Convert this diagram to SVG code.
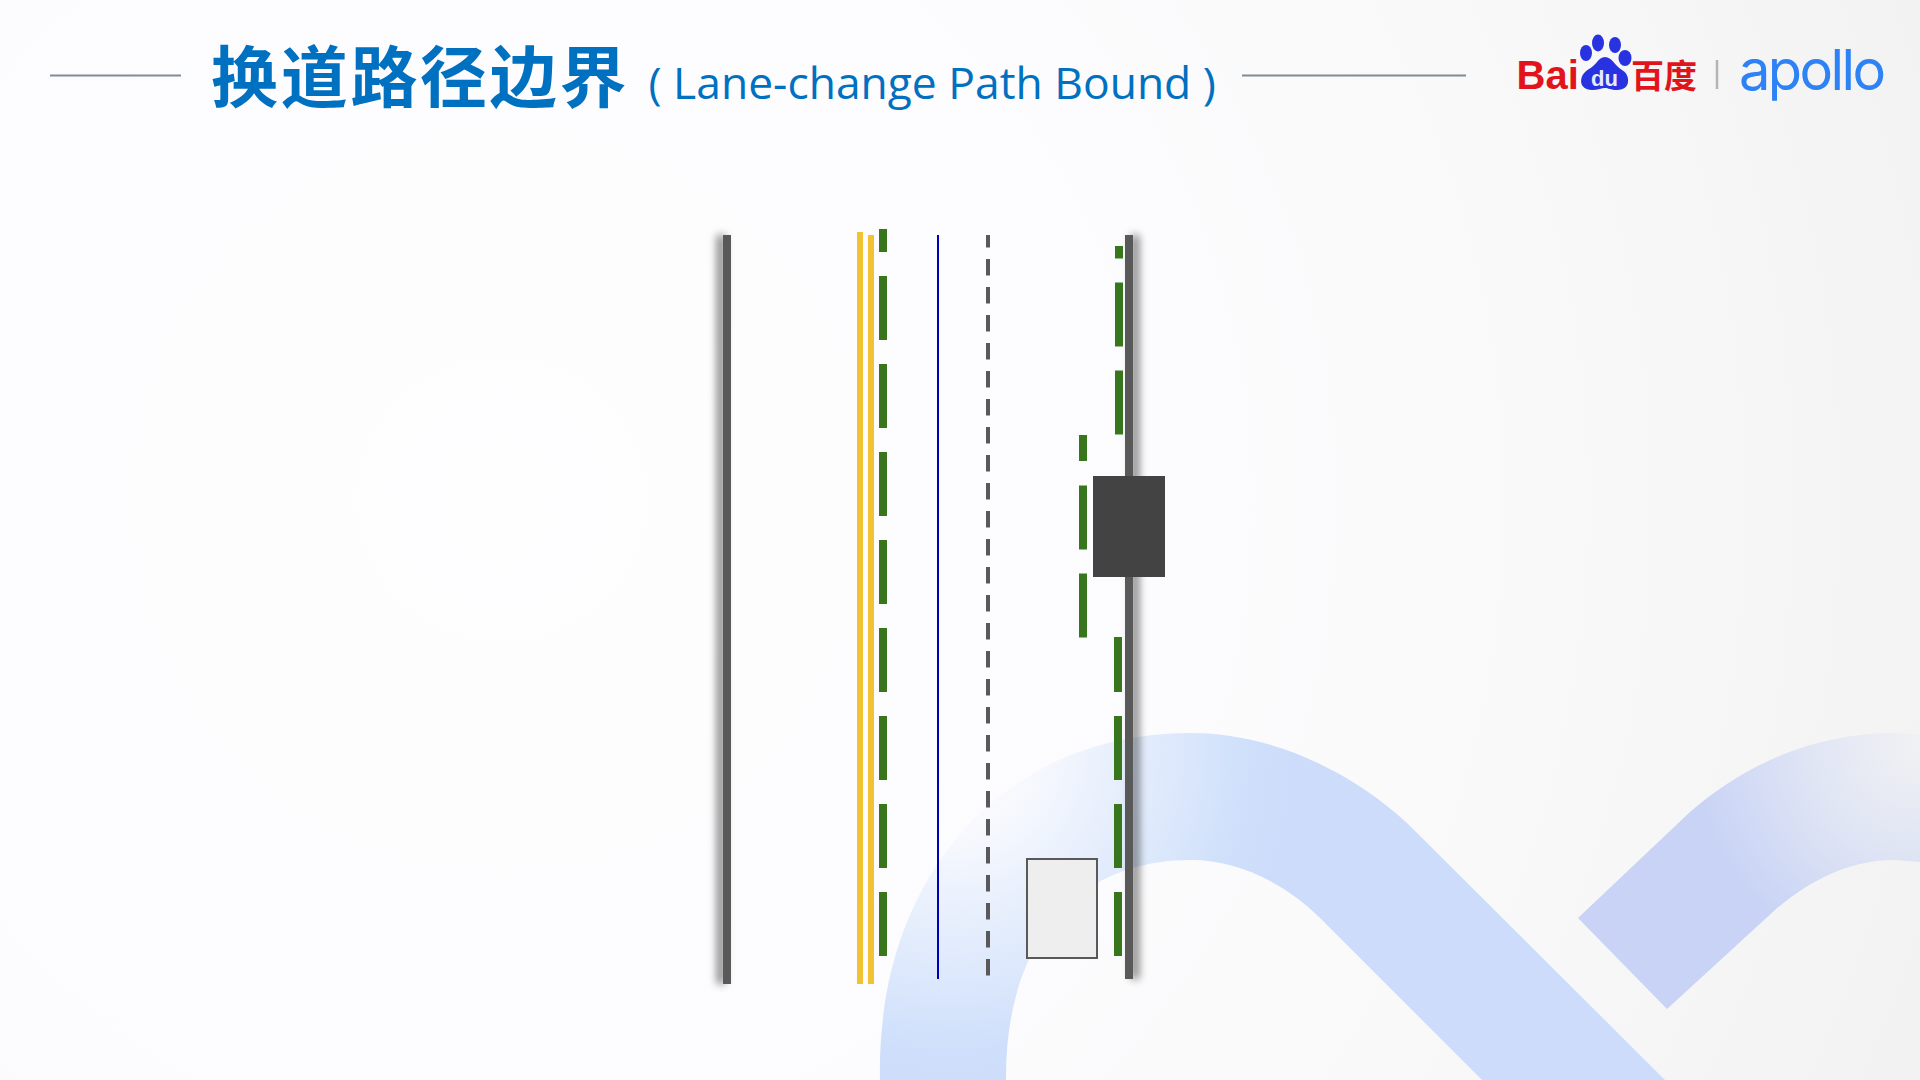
<svg xmlns="http://www.w3.org/2000/svg" width="1920" height="1080" viewBox="0 0 1920 1080">
<defs>
<radialGradient id="bg" gradientUnits="userSpaceOnUse" cx="500" cy="500" r="1500">
<stop offset="0" stop-color="#fefeff"/><stop offset="0.45" stop-color="#fcfcfe"/><stop offset="0.75" stop-color="#f8f8f8"/><stop offset="1" stop-color="#f2f2f2"/>
</radialGradient>
<radialGradient id="arch1" gradientUnits="userSpaceOnUse" cx="950" cy="750" r="340">
<stop offset="0" stop-color="#cedffb" stop-opacity="0"/><stop offset="0.25" stop-color="#cedffb" stop-opacity="0.12"/><stop offset="0.9" stop-color="#cedffb"/><stop offset="1" stop-color="#cddcfa"/>
</radialGradient>
<radialGradient id="arch2" gradientUnits="userSpaceOnUse" cx="1920" cy="745" r="270">
<stop offset="0" stop-color="#c8d3f5" stop-opacity="0.05"/><stop offset="0.4" stop-color="#c8d3f5" stop-opacity="0.45"/><stop offset="0.85" stop-color="#c8d3f5"/>
</radialGradient>
<filter id="shadow" x="-500%" y="-3%" width="1100%" height="106%"><feGaussianBlur stdDeviation="4"/></filter>
<style>
.road{fill:#595959}
.sh{fill:#000;opacity:.5;filter:url(#shadow)}
.g{fill:#38761d}
.y{fill:#f1c232}
.t{font-family:"Noto Sans CJK SC","Noto Sans",sans-serif}
</style>
</defs>
<rect id="background" width="1920" height="1080" fill="url(#bg)"/>
<g id="decor">
<path d="M880 1080 C876 880 1000 733 1191 733 C1270 733 1350 770 1408 824 L1665 1080 L1482 1080 L1329 927 C1290 885 1240 860 1191 860 C1070 860 1005 950 1006 1080 Z" fill="url(#arch1)"/>
<path d="M1578 918 L1690 812 C1750 760 1820 733 1895 733 L1920 735 L1920 862 L1894 860 C1850 860 1810 880 1775 910 L1667 1009 Z" fill="url(#arch2)"/>
</g>
<g id="title">
<line x1="50" y1="75.5" x2="181" y2="75.5" stroke="#7f8c96" stroke-width="2"/>
<text class="t" x="211" y="101.500" font-size="67" font-weight="700" letter-spacing="2.700" fill="#0070c0">换道路径边界</text>
<text x="648.500" y="99" font-family="'Open Sans',sans-serif" font-size="44.400" fill="#0070c0">( Lane-change Path Bound )</text>
<line x1="1242" y1="75.5" x2="1466" y2="75.5" stroke="#7f8c96" stroke-width="2"/>
</g>
<g id="logo">
<text x="1516.500" y="88.500" font-family="'Liberation Sans',sans-serif" font-size="40" font-weight="700" fill="#e1141c">Bai</text>
<g fill="#2932e1">
<ellipse cx="1586" cy="53" rx="6" ry="8"/><ellipse cx="1598" cy="43" rx="6" ry="8.500"/><ellipse cx="1615" cy="45" rx="6" ry="8"/><ellipse cx="1625" cy="58" rx="6.500" ry="8"/>
<path d="M1605 57 C1612 57 1615 66 1622 70 C1630 74 1632 90 1617 90 C1611 90 1608 88 1605 88 C1602 88 1598 90 1592 90 C1578 90 1578 75 1589 69 C1596 66 1598 57 1605 57 Z"/>
</g>
<text x="1591" y="86" font-family="'Liberation Sans',sans-serif" font-size="22" font-weight="700" fill="#e8eaff">du</text>
<text class="t" x="1631" y="88" font-size="33" font-weight="700" fill="#e1141c">百度</text>
<line x1="1717" y1="60" x2="1717" y2="89" stroke="#b4b4b4" stroke-width="2.500"/>
<text x="1739" y="90" font-family="Inter,sans-serif" font-size="56" fill="#2d82f5" textLength="147" lengthAdjust="spacing">apollo</text>
</g>
<g id="road-boundary-left">
<rect class="sh" x="717" y="235" width="8" height="749"/>
<rect class="road" x="723" y="235" width="8" height="749"/>
</g>
<g id="road-boundary-right">
<rect class="sh" x="1131" y="235" width="8" height="744"/>
<rect class="road" x="1125" y="235" width="8" height="744"/>
</g>
<g id="connectors">
<rect class="y" x="857" y="232" width="6" height="752"/>
<rect class="y" x="868" y="235" width="6" height="749"/>
<line x1="938" y1="235" x2="938" y2="979" stroke="#0000b4" stroke-width="2"/>
<line x1="988" y1="235" x2="988" y2="976" stroke="#595959" stroke-width="4" stroke-dasharray="16.400 11.600" stroke-dashoffset="3.900"/>
<g class="g">
<rect x="879" y="229" width="8" height="23"/><rect x="879" y="276" width="8" height="64"/><rect x="879" y="364" width="8" height="64"/><rect x="879" y="452" width="8" height="64"/><rect x="879" y="540" width="8" height="64"/><rect x="879" y="628" width="8" height="64"/><rect x="879" y="716" width="8" height="64"/><rect x="879" y="804" width="8" height="64"/><rect x="879" y="892" width="8" height="64"/>
<rect x="1115" y="246" width="8" height="12.500"/><rect x="1115" y="282.500" width="8" height="64"/><rect x="1115" y="370.500" width="8" height="64"/>
<rect x="1079" y="435" width="8" height="26"/><rect x="1079" y="485.500" width="8" height="64"/><rect x="1079" y="573.500" width="8" height="64"/>
<rect x="1114" y="637" width="8" height="55"/><rect x="1114" y="716" width="8" height="64"/><rect x="1114" y="804" width="8" height="64"/><rect x="1114" y="892" width="8" height="64"/>
</g>
</g>
<g id="obstacle"><rect x="1093" y="476" width="72" height="101" fill="#434343"/></g>
<g id="ego-car"><rect x="1027" y="859" width="70" height="99" fill="#eeeeee" stroke="#595959" stroke-width="2"/></g>
</svg>
